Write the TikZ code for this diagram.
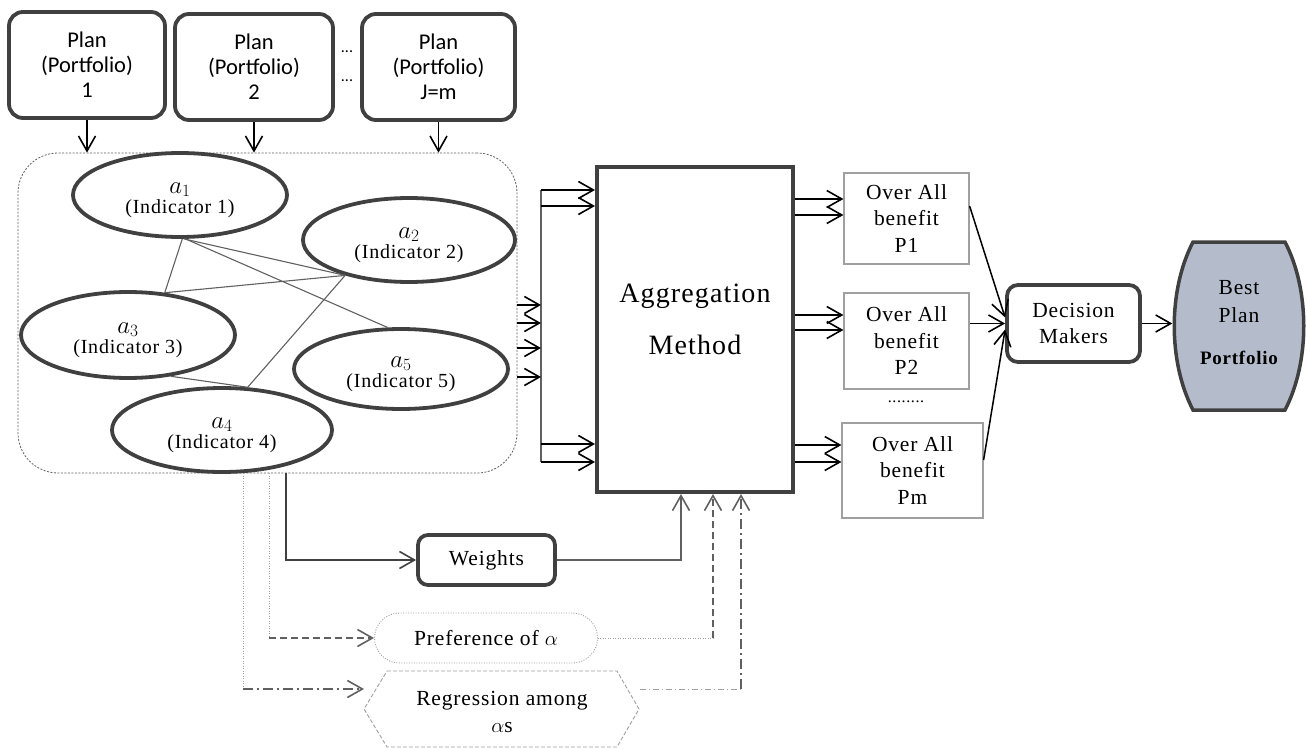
\documentclass[tikz,border=0pt]{standalone}
\usepackage{fontspec}
\setmainfont{Liberation Serif}[LetterSpace=4]
\newfontfamily\calibri{Carlito}
\usetikzlibrary{arrows.meta,shapes.misc,shapes.geometric}
\definecolor{dk}{HTML}{404040}
\definecolor{md}{HTML}{606060}
\definecolor{lg}{HTML}{A0A0A0}
\definecolor{bestfill}{HTML}{B4BCCC}
\newcommand{\asub}[1]{{\rule{0pt}{21pt}\fontsize{23}{20}\selectfont$a_{#1}$}}
\tikzset{
  plan/.style={draw=dk, line width=3.8pt, rounded corners=14pt, inner sep=0pt, align=center,
    font=\calibri\fontsize{22.5}{25}\selectfont},
  ind/.style={ellipse, draw=dk, line width=3.8pt, inner sep=0pt, align=center,
    font=\fontsize{20}{20.5}\selectfont},
  over/.style={draw=lg, line width=1.2pt, inner sep=0pt, align=center,
    font=\fontsize{21.5}{26.5}\selectfont},
  txt/.style={inner sep=0pt, align=center, font=\fontsize{21.5}{27}\selectfont},
  rbox/.style={draw=dk, line width=3.8pt, rounded corners=11pt, inner sep=0pt, align=center,
    font=\fontsize{21.5}{26}\selectfont},
  tip/.style={-{Straight Barb[length=15pt,width=17pt,line width=1.6pt]}},
  arr/.style={tip, draw=black, line width=1.5pt},
  garr/.style={tip, draw=md, line width=1.5pt},
  rel/.style={draw=md, line width=1.1pt},
  bus/.style={draw=md, line width=1.2pt},
  dotl/.style={draw=lg, line width=0.9pt, dash pattern=on 1pt off 1.5pt},
  dasharr/.style={tip, draw=md, line width=1.6pt, dash pattern=on 7pt off 4pt},
  ddarr/.style={tip, draw=md, line width=1.6pt, dash pattern=on 10pt off 4pt on 2pt off 4pt},
  ddl/.style={draw=lg, line width=0.9pt, dash pattern=on 6pt off 3pt on 1pt off 3pt},
}
\begin{document}
\begin{tikzpicture}[x=1pt,y=-1pt]
\useasboundingbox (0,0) rectangle (1307,749);

% plan boxes
\node[plan, minimum width=156pt, minimum height=106pt] (p1) at (87,65) {Plan\\(Portfolio)\\1};
\node[plan, minimum width=158pt, minimum height=106pt] (p2) at (254,67) {Plan\\(Portfolio)\\2};
\node[plan, minimum width=153pt, minimum height=106pt] (p3) at (438.5,67) {Plan\\(Portfolio)\\J=m};
\node[inner sep=0pt, font=\calibri\fontsize{16}{16}\selectfont] (d1) at (347,52) {...};
\node[inner sep=0pt, font=\calibri\fontsize{16}{16}\selectfont] (d2) at (347,81) {...};

% container
\node[draw=md, line width=0.8pt, dash pattern=on 2pt off 1.5pt, rounded corners=40pt,
  minimum width=499pt, minimum height=320pt, inner sep=0pt] (cont) at (267.5,313) {};

\draw[arr] (p1.south) -- (p1.south |- cont.north);
\draw[arr] (p2.south) -- (p2.south |- cont.north);
\draw[arr] (p3.south) -- (p3.south |- cont.north);

% indicators
\node[ind, minimum width=214pt, minimum height=84pt] (a1) at (180,195) {\asub{1}\\(Indicator 1)};
\node[ind, minimum width=212pt, minimum height=84pt] (a2) at (409,240) {\asub{2}\\(Indicator 2)};
\node[ind, minimum width=214pt, minimum height=86pt] (a3) at (128,335) {\asub{3}\\(Indicator 3)};
\node[ind, minimum width=214pt, minimum height=80pt] (a5) at (401,369) {\asub{5}\\(Indicator 5)};
\node[ind, minimum width=220pt, minimum height=84pt] (a4) at (222,430) {\asub{4}\\(Indicator 4)};

\draw[rel] (a1.-87) -- (a3.49);
\draw[rel] (a1.-85) -- (a2.209);
\draw[rel] (a1.-83) -- (a5.108);
\draw[rel] (a3.49) -- (a2.209);
\draw[rel] (a2.209) -- (a4.59);
\draw[rel] (a3.-44) -- (a4.59);

% aggregation
\node[draw=dk, line width=4pt, minimum width=196pt, minimum height=325pt, inner sep=0pt] (agg) at (695,329.5) {};
\node[inner sep=0pt, align=center, font=\fontsize{28}{52}\selectfont] (aggtxt) at (695,319) {Aggregation\\Method};

% bus
\coordinate (busT) at (541,190);
\coordinate (busB) at (541,462);
\draw[bus] (busT) -- (busB);
\draw[arr] (cont.east |- 0,305) -- (busT |- 0,305);
\draw[arr] (cont.east |- 0,323) -- (busT |- 0,323);
\draw[arr] (cont.east |- 0,348) -- (busT |- 0,348);
\draw[arr] (cont.east |- 0,377) -- (busT |- 0,377);
\draw[arr] (busT) -- (agg.west |- busT);
\draw[arr] (busT |- 0,206) -- (agg.west |- 0,206);
\draw[arr] (busB |- 0,444) -- (agg.west |- 0,444);
\draw[arr] (busB) -- (agg.west |- busB);

% overall benefit boxes
\node[over, minimum width=125pt, minimum height=91pt] (o1) at (906.5,218.5) {Over All\\benefit\\P1};
\node[over, minimum width=125pt, minimum height=96pt] (o2) at (906.5,341) {Over All\\benefit\\P2};
\node[over, minimum width=141pt, minimum height=95pt] (o3) at (912.5,470.5) {Over All\\benefit\\Pm};
\node[inner sep=0pt, font=\fontsize{16}{16}\selectfont] (odots) at (906,402) {........};

\draw[arr] (agg.east |- 0,199) -- (o1.west |- 0,199);
\draw[arr] (agg.east |- 0,215) -- (o1.west |- 0,215);
\draw[arr] (agg.east |- 0,315) -- (o2.west |- 0,315);
\draw[arr] (agg.east |- 0,330) -- (o2.west |- 0,330);
\draw[arr] (agg.east |- 0,445) -- (o3.west |- 0,445);
\draw[arr] (agg.east |- 0,462) -- (o3.west |- 0,462);

% decision makers
\node[rbox, minimum width=133pt, minimum height=77pt] (dm) at (1073.5,323.5) {Decision\\Makers};
\draw[arr] (o1.east |- 0,206) -- (dm.175);
\draw[arr] (o2.east |- dm.west) -- (dm.west);
\draw[arr] (o3.east |- 0,460) -- (dm.185);

% best plan
\draw[draw=dk, line width=3.5pt, fill=bestfill]
  (1193,242) -- (1285,242) .. controls (1310,290) and (1310,362) .. (1285,410)
  -- (1193,410) .. controls (1168,362) and (1168,290) .. cycle;
\node[inner sep=0pt, align=center, font=\fontsize{21.5}{28}\selectfont, minimum width=133pt, minimum height=168pt] (best) at (1239,323)
  {Best\\Plan\\[14pt]{\fontsize{19}{20}\selectfont\bfseries Portfolio}};
\draw[arr] (dm.east) -- (best.west |- dm.east);

% weights
\node[rbox, minimum width=137pt, minimum height=50pt, rounded corners=10pt] (w) at (486.5,560) {Weights};
\coordinate (wv) at (286,0 |- cont.south);
\draw[arr, draw=dk] (wv) |- (w.west);
\coordinate (wa) at (681,0 |- agg.south);
\draw[garr] (w.east) -| (wa);

% preference
\node[rounded rectangle, draw=lg, line width=0.9pt, dash pattern=on 1pt off 1.5pt,
  minimum width=223pt, minimum height=50pt, inner sep=0pt, font=\fontsize{21.5}{26}\selectfont] (pref) at (486,638) {Preference of $\alpha$};
\coordinate (pv) at (269,0 |- cont.south);
\coordinate (pc) at (269,0 |- pref.west);
\draw[dotl] (pv) -- (pc);
\draw[dasharr] (pc) -- (pref.west);
\coordinate (pr) at (713,0 |- pref.east);
\coordinate (pa) at (713,0 |- agg.south);
\draw[dotl] (pref.east) -- (pr);
\draw[dasharr] (pr) -- (pa);

% regression
\draw[draw=lg, line width=0.9pt, dash pattern=on 4pt off 2pt]
  (387,671) -- (617,671) -- (639,709) -- (617,747) -- (387,747) -- (364,709) -- cycle;
\node[txt] (reg) at (502,712) {Regression among\\$\alpha$s};
\coordinate (rv) at (243,0 |- cont.south);
\coordinate (rc) at (243,689);
\coordinate (rt) at (364,689);
\draw[dotl] (rv) -- (rc);
\draw[ddarr] (rc) -- (rt);
\coordinate (rr) at (640,689);
\coordinate (rr2) at (741,689);
\coordinate (ra) at (741,0 |- agg.south);
\draw[ddl] (rr) -- (rr2);
\draw[ddarr] (rr2) -- (ra);
\end{tikzpicture}
\end{document}
